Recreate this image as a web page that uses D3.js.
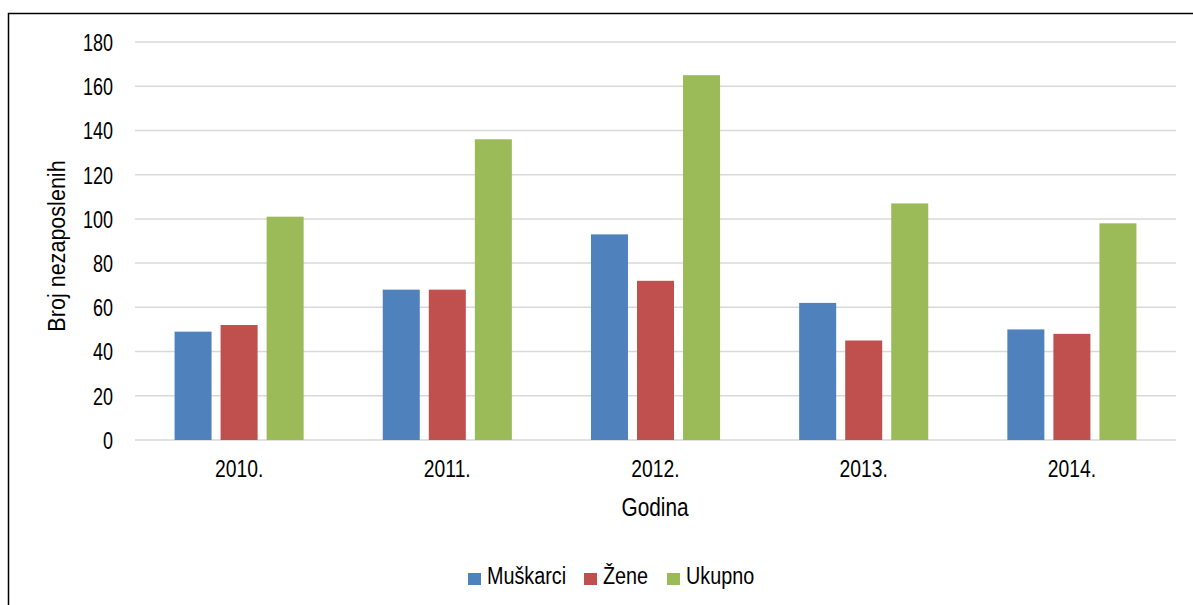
<!DOCTYPE html>
<html>
<head>
<meta charset="utf-8">
<script src="https://cdn.jsdelivr.net/npm/d3@7"></script>
<style>
  body { margin: 0; background: #fff; }
  text { font-family: "Liberation Sans", Arial, sans-serif; fill: #000; }
</style>
</head>
<body>
<div id="chart"></div>
<script>
// data
const years = ["2010.", "2011.", "2012.", "2013.", "2014."];
const series = ["Muškarci", "Žene", "Ukupno"];
const muskarci = [49, 68, 93, 62, 50];
const zene = [52, 68, 72, 45, 48];
const ukupno = [101, 136, 165, 107, 98];
const yTicks = [0, 20, 40, 60, 80, 100, 120, 140, 160, 180];
const colors = ["#4f81bd", "#c0504d", "#9bbb59"];

const width = 1193;
const height = 605;
const margin = {left: 135, right: 17, top: 42, bottom: 165};

const values = [muskarci, zene, ukupno];
const rows = years.map((y, i) => ({year: y, vals: series.map((s, j) => ({key: s, value: values[j][i]}))}));

const svg = d3.select("#chart")
  .append("svg")
  .attr("width", width)
  .attr("height", height);

// frame round the chart area
svg.append("rect")
  .attr("x", 8.5).attr("y", 13.5)
  .attr("width", 1200).attr("height", 620)
  .attr("fill", "none")
  .attr("stroke", "#000")
  .attr("stroke-width", 1.5);

const yScale = d3.scaleLinear()
  .domain([0, 180])
  .range([height - margin.bottom, margin.top]);

const x0 = d3.scaleBand()
  .domain(years)
  .range([margin.left, width - margin.right])
  .paddingInner(0.38)
  .paddingOuter(0.19);

const x1 = d3.scaleBand()
  .domain(series)
  .range([0, x0.bandwidth()])
  .paddingInner(0.196)
  .paddingOuter(0);

const color = d3.scaleOrdinal().domain(series).range(colors);

// gridlines
svg.append("g")
  .selectAll("line")
  .data(yTicks)
  .enter()
  .append("line")
    .attr("x1", margin.left)
    .attr("x2", width - margin.right)
    .attr("y1", d => yScale(d))
    .attr("y2", d => yScale(d))
    .attr("stroke", "#d9d9d9")
    .attr("stroke-width", 1.5);

// y axis labels (the font in the picture is a narrow one, so squeeze it)
const yAxis = svg.append("g")
  .attr("transform", `translate(${margin.left - 22}, 0)`)
  .call(d3.axisLeft(yScale).tickValues(yTicks).tickSize(0).tickPadding(0))
  .attr("font-size", "24px")
  .attr("font-family", null);
yAxis.select(".domain").remove();
yAxis.selectAll("text")
  .attr("x", 0)
  .attr("dy", "0.35em")
  .attr("transform", "scale(0.75,1)");

// bars
svg.append("g")
  .selectAll("g")
  .data(rows)
  .enter()
  .append("g")
    .attr("transform", d => `translate(${x0(d.year)},0)`)
  .selectAll("rect")
  .data(d => d.vals)
  .enter()
  .append("rect")
    .attr("x", d => x1(d.key))
    .attr("y", d => yScale(d.value))
    .attr("width", x1.bandwidth())
    .attr("height", d => yScale(0) - yScale(d.value))
    .attr("fill", d => color(d.key));

// x axis labels
const xAxis = svg.append("g")
  .attr("transform", `translate(0, ${yScale(0)})`)
  .call(d3.axisBottom(x0).tickSize(0))
  .attr("font-size", "23px")
  .attr("font-family", null);
xAxis.select(".domain").remove();
xAxis.selectAll("text")
  .attr("y", 37)
  .attr("dy", 0)
  .attr("transform", "scale(0.84,1)");

// axis titles
svg.append("text")
  .attr("transform", `translate(65, 246) rotate(-90) scale(0.88,1)`)
  .attr("text-anchor", "middle")
  .attr("font-size", "24.5px")
  .text("Broj nezaposlenih");

svg.append("text")
  .attr("transform", `translate(655, 516) scale(0.8,1)`)
  .attr("text-anchor", "middle")
  .attr("font-size", "26px")
  .text("Godina");

// legend
const legendX = [468, 584, 667];
const legend = svg.append("g")
  .selectAll("g")
  .data(series)
  .enter()
  .append("g")
    .attr("transform", (d, i) => `translate(${legendX[i]}, 573)`);

legend.append("rect")
  .attr("x", 0).attr("y", 0)
  .attr("width", 13).attr("height", 12)
  .attr("fill", d => color(d));

legend.append("text")
  .attr("transform", "translate(19,11) scale(0.86,1)")
  .attr("font-size", "23px")
  .text(d => d);
</script>
</body>
</html>
